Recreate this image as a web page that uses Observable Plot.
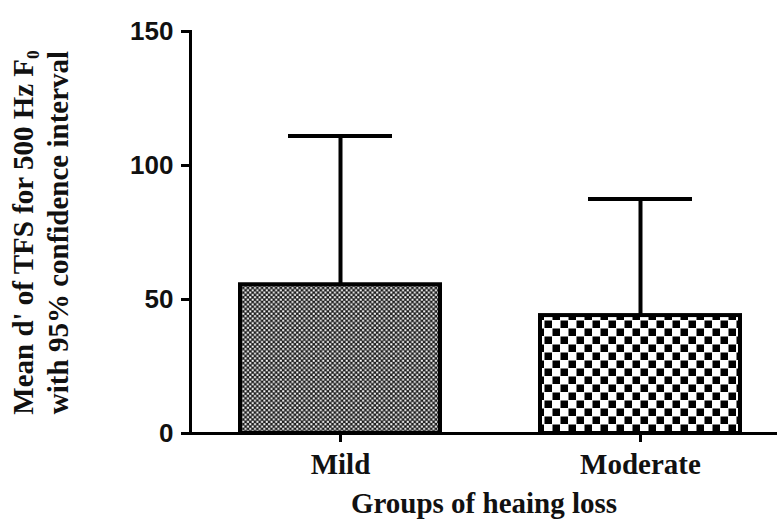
<!DOCTYPE html>
<html>
<head>
<meta charset="utf-8">
<script src="https://cdn.jsdelivr.net/npm/d3@7"></script>
<script src="https://cdn.jsdelivr.net/npm/@observablehq/plot@0.6"></script>
<style>
  html, body { margin: 0; padding: 0; background: #fff; }
</style>
</head>
<body>
<div id="chart"></div>
<script>
const groups = ["Mild", "Moderate"];
const means = [55.5, 44];
const upperCI = [111, 87.5];
const yTicks = [0, 50, 100, 150];
const xTitle = "Groups of heaing loss";
const yTitle = "Mean d' of TFS for 500 Hz F\u2080\nwith 95% confidence interval";

const fills = {Mild: "url(#patFine)", Moderate: "url(#patCoarse)"};
const data = groups.map((g, i) => ({group: g, mean: means[i], upper: upperCI[i]}));

const serif = "'Liberation Serif', 'Times New Roman', serif";
const sans = "'Liberation Sans', Arial, sans-serif";

const chart = Plot.plot({
  width: 778,
  height: 522,
  marginLeft: 190,
  marginRight: 1,
  marginTop: 31,
  marginBottom: 89,
  x: {domain: groups, range: [239, 741], paddingInner: 0.332, paddingOuter: 0},
  y: {domain: [0, 150]},
  color: {type: "identity"},
  marks: [
    Plot.barY(data, {x: "group", y: "mean", fill: d => fills[d.group], stroke: "black", strokeWidth: 4}),
    Plot.ruleX(data, {x: "group", y1: "mean", y2: "upper", stroke: "black", strokeWidth: 4}),
    Plot.tickY(data, {x: "group", y: "upper", stroke: "black", strokeWidth: 4, insetLeft: 48, insetRight: 48}),
    Plot.ruleY([0], {stroke: "black", strokeWidth: 3}),
    Plot.frame({anchor: "left", stroke: "black", strokeWidth: 3}),
    Plot.axisY({ticks: yTicks, tickSize: 9, tickPadding: 8, strokeWidth: 3, label: null,
      fontFamily: sans, fontWeight: "bold", fontSize: 26, fill: "#111"}),
    Plot.axisX({tickSize: 9, tickPadding: 11, strokeWidth: 3,
      fontFamily: serif, fontWeight: "bold", fontSize: 29, fill: "#111",
      label: xTitle, labelAnchor: "center", labelOffset: 79}),
    Plot.text([yTitle], {frameAnchor: "left", dx: -151, rotate: -90, lineHeight: 1.2,
      fontFamily: serif, fontWeight: "bold", fontSize: 29, fill: "#111", textAnchor: "middle", lineAnchor: "middle"})
  ]
});

// pattern definitions used by the bar fills
const svg = d3.select(chart);
const defs = svg.insert("defs", ":first-child");
const fine = defs.append("pattern").attr("id", "patFine").attr("patternUnits", "userSpaceOnUse")
  .attr("width", 4.7).attr("height", 4.7);
fine.append("rect").attr("width", 4.7).attr("height", 4.7).attr("fill", "#1c1c1c");
fine.append("rect").attr("x", 0.2).attr("y", 0.2).attr("width", 2).attr("height", 2).attr("fill", "#fff");
fine.append("rect").attr("x", 2.55).attr("y", 2.55).attr("width", 2).attr("height", 2).attr("fill", "#fff");
const coarse = defs.append("pattern").attr("id", "patCoarse").attr("patternUnits", "userSpaceOnUse")
  .attr("width", 16).attr("height", 16);
coarse.append("rect").attr("width", 16).attr("height", 16).attr("fill", "#fff");
coarse.append("rect").attr("x", 0.5).attr("y", 0.5).attr("width", 7.5).attr("height", 7.5).attr("fill", "#000");
coarse.append("rect").attr("x", 8.5).attr("y", 8.5).attr("width", 7.5).attr("height", 7.5).attr("fill", "#000");

document.getElementById("chart").appendChild(chart);
</script>
</body>
</html>
